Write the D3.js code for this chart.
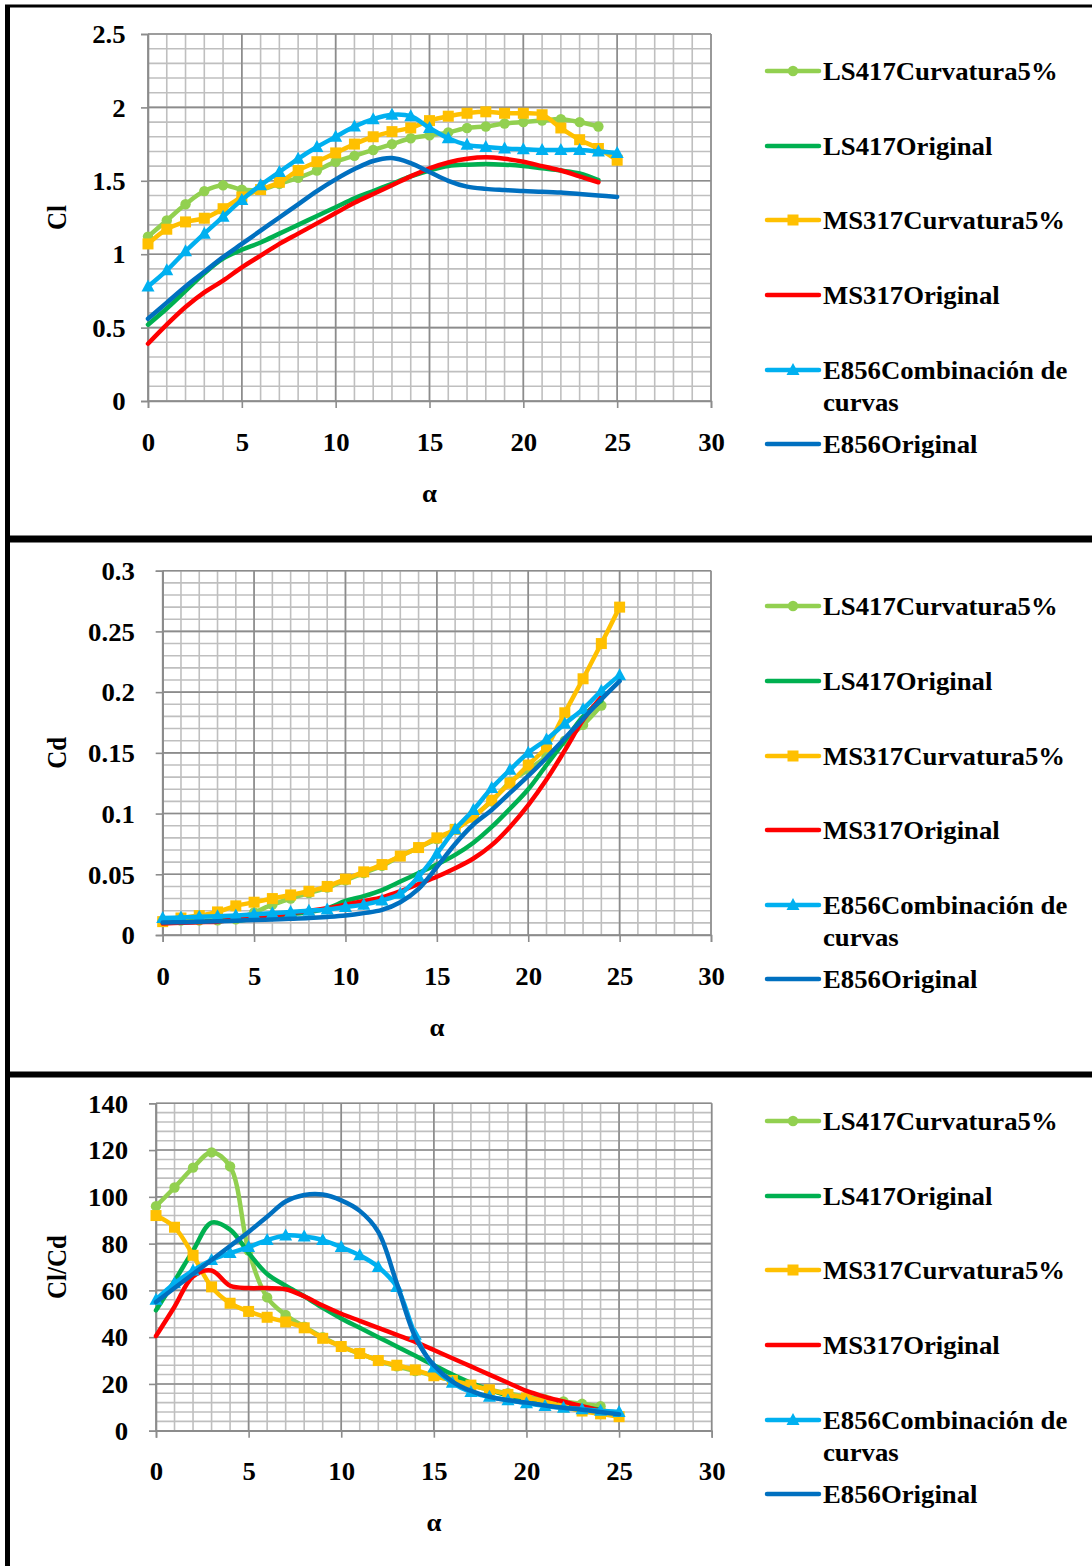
<!DOCTYPE html>
<html>
<head>
<meta charset="utf-8">
<script src="https://cdn.jsdelivr.net/npm/d3@7"></script>
<style>
  body { margin: 0; background: #fff; }
  text { font-family: "Liberation Serif", "Times New Roman", serif; font-weight: bold; fill: #000; }
</style>
</head>
<body>
<div id="chart"></div>
<script>
// angle of attack (x axis)
var alpha = [0,1,2,3,4,5,6,7,8,9,10,11,12,13,14,15,16,17,18,19,20,21,22,23,24,25];
var alphaTicks = [0,5,10,15,20,25,30];

var seriesNames = ["LS417Curvatura5%", "LS417Original", "MS317Curvatura5%", "MS317Original", "E856Combinación de curvas", "E856Original"];
var seriesColors = ["#92D050", "#00B050", "#FFC000", "#FF0000", "#00B0F0", "#0070C0"];
var seriesMarkers = ["circle", null, "square", null, "triangle", null];

// Cl
var clTicks = [0, 0.5, 1, 1.5, 2, 2.5];
var clLS417Curv = [1.12,1.23,1.34,1.43,1.47,1.44,1.44,1.48,1.52,1.57,1.63,1.67,1.71,1.75,1.79,1.81,1.83,1.86,1.87,1.89,1.90,1.91,1.92,1.90,1.87];
var clLS417Orig = [0.52,0.63,0.75,0.87,0.97,1.03,1.08,1.14,1.20,1.26,1.32,1.38,1.43,1.48,1.53,1.57,1.60,1.61,1.615,1.61,1.60,1.585,1.57,1.55,1.505];
var clMS317Curv = [1.07,1.17,1.22,1.245,1.31,1.39,1.44,1.49,1.57,1.63,1.69,1.75,1.80,1.835,1.86,1.91,1.94,1.96,1.97,1.96,1.96,1.95,1.86,1.78,1.72,1.64];
var clMS317Orig = [0.39,0.52,0.64,0.74,0.82,0.91,0.99,1.07,1.14,1.21,1.28,1.35,1.41,1.47,1.53,1.585,1.625,1.65,1.66,1.65,1.63,1.60,1.57,1.53,1.49];
var clE856Comb  = [0.78,0.89,1.02,1.14,1.255,1.37,1.47,1.56,1.65,1.73,1.80,1.87,1.92,1.95,1.94,1.86,1.79,1.745,1.73,1.72,1.715,1.71,1.71,1.71,1.70,1.69];
var clE856Orig  = [0.56,0.67,0.78,0.88,0.98,1.07,1.16,1.25,1.34,1.43,1.51,1.58,1.635,1.655,1.62,1.56,1.50,1.46,1.445,1.437,1.43,1.426,1.42,1.41,1.40,1.39];

// Cd
var cdTicks = [0, 0.05, 0.1, 0.15, 0.2, 0.25, 0.3];
var cdLS417Curv = [0.0117,0.0118,0.012,0.0121,0.013,0.0185,0.025,0.030,0.0345,0.039,0.045,0.051,0.057,0.065,0.072,0.079,0.087,0.098,0.110,0.126,0.136,0.147,0.160,0.173,0.189];
var cdLS417Orig = [0.010,0.0105,0.011,0.0115,0.012,0.013,0.015,0.017,0.019,0.022,0.028,0.032,0.037,0.044,0.051,0.058,0.066,0.076,0.089,0.104,0.12,0.14,0.16,0.18,0.193];
var cdMS317Curv = [0.011,0.014,0.016,0.019,0.024,0.027,0.030,0.033,0.036,0.040,0.046,0.052,0.058,0.065,0.072,0.080,0.087,0.097,0.111,0.125,0.140,0.155,0.183,0.211,0.240,0.270];
var cdMS317Orig = [0.0095,0.010,0.0105,0.011,0.013,0.015,0.016,0.018,0.020,0.022,0.025,0.028,0.031,0.036,0.042,0.048,0.055,0.063,0.074,0.089,0.107,0.128,0.152,0.177,0.196];
var cdE856Comb  = [0.014,0.0145,0.015,0.0155,0.016,0.017,0.018,0.019,0.020,0.021,0.023,0.025,0.0285,0.034,0.048,0.067,0.087,0.103,0.121,0.136,0.150,0.161,0.174,0.186,0.201,0.214];
var cdE856Orig  = [0.0102,0.0106,0.011,0.0114,0.0118,0.0124,0.0128,0.0133,0.0139,0.0148,0.016,0.018,0.0207,0.027,0.038,0.056,0.075,0.091,0.103,0.117,0.131,0.146,0.162,0.178,0.194,0.209];

// Cl/Cd
var ratioTicks = [0, 20, 40, 60, 80, 100, 120, 140];
var ratioLS417Curv = [96,104,112.5,119,113,77,57,49.5,44.5,40,36,33,30,27.5,25.5,23.5,21.5,19.5,17.5,16,14.5,13.5,12.5,11.5,10.5];
var ratioLS417Orig = [51.5,64,77,89,86,76,67,62,57.5,52.5,48,44,40,36,32,28,24,20.5,17.5,15,13.5,12,11,10,9];
var ratioMS317Curv = [92,87,75,61.5,54.5,51,48.5,46.5,44,39.5,36,33,30,28,26,23.5,21.5,19.5,17.5,15.5,14,12.6,10.2,8.4,7.2,6];
var ratioMS317Orig = [40.5,53,66,68.5,62,61,61,60.5,57.5,53.5,50,47,44,41,38,34.5,31,27.5,24,20.5,17,14.5,12.5,10.5,8.5];
var ratioE856Comb  = [56,63,68.5,73,76,78.5,81.5,83.5,83,81.5,78.5,75,70,61.5,41,27,20.5,16.5,14.5,13,11.7,10.6,9.8,9.2,8.5,8];
var ratioE856Orig  = [55,61,67,73,79,85,91.5,98,100.8,101,98.5,94,85,63,40,28,21,17,14.5,13,12,10.8,9.8,9,8,7];

var panels = [
  { title: "Cl", ticks: clTicks, minor: 0.1,
    series: [clLS417Curv, clLS417Orig, clMS317Curv, clMS317Orig, clE856Comb, clE856Orig],
    left: 148, right: 711, top: 34, bottom: 401, labelGap: 21, legendY: [71,146,220,295,370,444] },
  { title: "Cd", ticks: cdTicks, minor: 0.01,
    series: [cdLS417Curv, cdLS417Orig, cdMS317Curv, cdMS317Orig, cdE856Comb, cdE856Orig],
    left: 162.7, right: 711, top: 570.7, bottom: 935, labelGap: 26, legendY: [606,681,756,830,905,979] },
  { title: "Cl/Cd", ticks: ratioTicks, minor: 4,
    series: [ratioLS417Curv, ratioLS417Orig, ratioMS317Curv, ratioMS317Orig, ratioE856Comb, ratioE856Orig],
    left: 156, right: 711.7, top: 1103.3, bottom: 1430.7, labelGap: 26, legendY: [1121,1196,1270,1345,1420,1494] }
];

var fontSize = 25,
	stretch = "scale(1.07,1)";

var svg = d3.select("#chart")
	.append("svg")
	.attr("width", 1092)
	.attr("height", 1566);

drawFrames();
panels.forEach(drawPanel);

////////////////////////////////////
////////////DRAWING/////////////////
////////////////////////////////////

function drawFrames() {
	svg.append("line").attr("x1", 5).attr("x2", 1092).attr("y1", 6).attr("y2", 6)
		.attr("stroke", "#000").attr("stroke-width", 3);
	svg.append("line").attr("x1", 7.5).attr("x2", 7.5).attr("y1", 5).attr("y2", 1566)
		.attr("stroke", "#000").attr("stroke-width", 5);
	svg.append("line").attr("x1", 5).attr("x2", 1092).attr("y1", 539).attr("y2", 539)
		.attr("stroke", "#000").attr("stroke-width", 7);
	svg.append("line").attr("x1", 5).attr("x2", 1092).attr("y1", 1074.5).attr("y2", 1074.5)
		.attr("stroke", "#000").attr("stroke-width", 6);
}

function drawPanel(p) {
	var yMax = p.ticks[p.ticks.length - 1];
	var x = d3.scaleLinear().domain([0, 30]).range([p.left, p.right]);
	var y = d3.scaleLinear().domain([0, yMax]).range([p.bottom, p.top]);
	var g = svg.append("g");

	// minor grid
	var xMinor = d3.range(0, 30.001, 1);
	var yMinor = d3.range(0, yMax + p.minor / 2, p.minor);
	g.selectAll(".vminor").data(xMinor).enter().append("line")
		.attr("x1", d => x(d)).attr("x2", d => x(d))
		.attr("y1", p.top).attr("y2", p.bottom)
		.attr("stroke", "#bfbfbf").attr("stroke-width", 1.6);
	g.selectAll(".hminor").data(yMinor).enter().append("line")
		.attr("x1", p.left).attr("x2", p.right)
		.attr("y1", d => y(d)).attr("y2", d => y(d))
		.attr("stroke", "#bfbfbf").attr("stroke-width", 1.6);

	// major grid
	g.selectAll(".vmajor").data(alphaTicks).enter().append("line")
		.attr("x1", d => x(d)).attr("x2", d => x(d))
		.attr("y1", p.top).attr("y2", p.bottom)
		.attr("stroke", "#8c8c8c").attr("stroke-width", 1.6);
	g.selectAll(".hmajor").data(p.ticks).enter().append("line")
		.attr("x1", p.left).attr("x2", p.right)
		.attr("y1", d => y(d)).attr("y2", d => y(d))
		.attr("stroke", "#8c8c8c").attr("stroke-width", 1.6);

	// axes
	var xAxis = d3.axisBottom(x).tickValues(alphaTicks).tickSize(7).tickPadding(0).tickFormat(d => String(d));
	var yAxis = d3.axisLeft(y).tickValues(p.ticks).tickSize(7).tickPadding(0).tickFormat(d => String(d));

	var xg = g.append("g").attr("transform", "translate(0," + p.bottom + ")").call(xAxis);
	var yg = g.append("g").attr("transform", "translate(" + p.left + ",0)").call(yAxis);
	[xg, yg].forEach(function (ax) {
		ax.select(".domain").attr("stroke", "#8c8c8c").attr("stroke-width", 1.6);
		ax.selectAll(".tick line").attr("stroke", "#8c8c8c").attr("stroke-width", 1.6);
		ax.selectAll("text").style("font-size", fontSize + "px").attr("fill", "#000");
	});
	xg.selectAll(".tick text").attr("y", 41).attr("dy", "0.35em").attr("transform", stretch);
	yg.selectAll(".tick text").attr("x", -p.labelGap).attr("dy", "0.35em").attr("transform", stretch);

	// axis titles
	g.append("text")
		.attr("transform", "translate(57," + (p.top + p.bottom) / 2 + ") rotate(-90) scale(1,1.07)")
		.attr("text-anchor", "middle").attr("dy", "0.35em")
		.style("font-size", fontSize + "px")
		.text(p.title);
	g.append("text")
		.attr("transform", "translate(" + (p.left + p.right) / 2 + "," + (p.bottom + 92) + ") " + stretch)
		.attr("text-anchor", "middle").attr("dy", "0.35em")
		.style("font-size", fontSize + "px")
		.text("α");

	// series
	p.series.forEach(function (values, i) {
		var pts = values.map((v, k) => ({ a: alpha[k], v: v }));
		var line = d3.line()
			.x(d => x(d.a)).y(d => y(d.v))
			.curve(d3.curveCatmullRom.alpha(0.5));
		g.append("path").datum(pts)
			.attr("d", line)
			.attr("fill", "none")
			.attr("stroke", seriesColors[i])
			.attr("stroke-width", 4.5)
			.attr("stroke-linecap", "round")
			.attr("stroke-linejoin", "round");
		if (seriesMarkers[i]) {
			pts.forEach(d => drawMarker(g, seriesMarkers[i], x(d.a), y(d.v), seriesColors[i]));
		}
	});

	// legend
	var lg = g.append("g");
	seriesNames.forEach(function (name, i) {
		var ly = p.legendY[i];
		lg.append("line")
			.attr("x1", 767).attr("x2", 819).attr("y1", ly).attr("y2", ly)
			.attr("stroke", seriesColors[i]).attr("stroke-width", 4.5)
			.attr("stroke-linecap", "round");
		if (seriesMarkers[i]) drawMarker(lg, seriesMarkers[i], 793, ly, seriesColors[i]);
		var words = name === "E856Combinación de curvas" ? ["E856Combinación de", "curvas"] : [name];
		words.forEach(function (w, j) {
			lg.append("text")
				.attr("transform", "translate(823," + (ly + j * 32) + ") " + stretch)
				.attr("dy", "0.35em")
				.style("font-size", fontSize + "px")
				.text(w);
		});
	});
}

function drawMarker(g, type, cx, cy, color) {
	if (type === "circle") {
		g.append("circle").attr("cx", cx).attr("cy", cy).attr("r", 5.2).attr("fill", color);
	} else if (type === "square") {
		g.append("rect").attr("x", cx - 5.5).attr("y", cy - 5.5).attr("width", 11).attr("height", 11).attr("fill", color);
	} else {
		g.append("path")
			.attr("d", "M" + cx + "," + (cy - 7) + "L" + (cx + 6.5) + "," + (cy + 5) + "L" + (cx - 6.5) + "," + (cy + 5) + "Z")
			.attr("fill", color);
	}
}
</script>
</body>
</html>
